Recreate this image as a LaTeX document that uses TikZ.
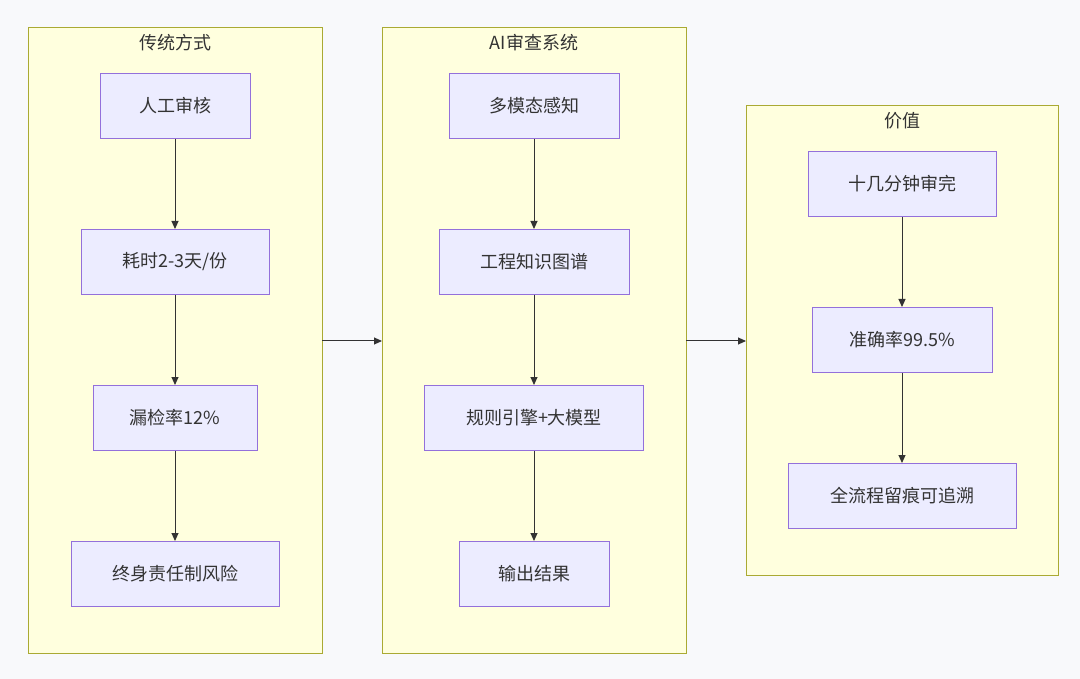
\documentclass[tikz,border=0pt]{standalone}
\usepackage{fontspec}
\setmainfont{Noto Sans CJK SC}
\usetikzlibrary{arrows.meta}
\definecolor{bg}{HTML}{F8F9FB}
\definecolor{clf}{HTML}{FFFFDE}
\definecolor{cls}{HTML}{AAAA33}
\definecolor{nf}{HTML}{ECECFF}
\definecolor{ns}{HTML}{9370DB}
\definecolor{tx}{HTML}{333333}
\begin{document}
\begin{tikzpicture}[x=1pt,y=-1pt,
  cluster/.style={draw=cls,fill=clf,line width=1pt},
  box/.style={draw=ns,fill=nf,line width=1pt,minimum height=65pt,text=tx,font=\fontsize{18}{20}\selectfont,inner sep=0pt},
  ttl/.style={text=tx,font=\fontsize{18}{20}\selectfont},
  arr/.style={draw=tx,line width=1pt,-{Triangle[length=8pt,width=7pt]}}]
\fill[bg] (0,0) rectangle (1080,679);
\useasboundingbox (0,0) rectangle (1080,679);
\draw[cluster] (28,28) rectangle (322,653); \node[ttl] (t1) at (175,43) {传统方式};
\draw[cluster] (382,28) rectangle (686,653); \node[ttl] (t2) at (534,43) {AI审查系统};
\draw[cluster] (746,106) rectangle (1058,575); \node[ttl] (t3) at (902,121) {价值};
\coordinate (c1r) at (322,341); \coordinate (c2l) at (382,341);
\coordinate (c2r) at (686,341); \coordinate (c3l) at (746,341);
\node[box,minimum width=150pt] (a1) at (175,106) {人工审核};
\node[box,minimum width=188pt] (a2) at (175,262) {耗时2-3天/份};
\node[box,minimum width=164pt] (a3) at (175,418) {漏检率12\%};
\node[box,minimum width=208pt] (a4) at (175,574) {终身责任制风险};
\node[box,minimum width=170pt] (b1) at (534,106) {多模态感知};
\node[box,minimum width=190pt] (b2) at (534,262) {工程知识图谱};
\node[box,minimum width=219pt] (b3) at (534,418) {规则引擎+大模型};
\node[box,minimum width=150pt] (b4) at (534,574) {输出结果};
\node[box,minimum width=188pt] (c1) at (902,184) {十几分钟审完};
\node[box,minimum width=180pt] (c2) at (902,340) {准确率99.5\%};
\node[box,minimum width=228pt] (c3) at (902,496) {全流程留痕可追溯};
\draw[arr] (a1) -- (a2); \draw[arr] (a2) -- (a3); \draw[arr] (a3) -- (a4);
\draw[arr] (b1) -- (b2); \draw[arr] (b2) -- (b3); \draw[arr] (b3) -- (b4);
\draw[arr] (c1) -- (c2); \draw[arr] (c2) -- (c3);
\draw[arr] (c1r) -- (c2l); \draw[arr] (c2r) -- (c3l);
\end{tikzpicture}
\end{document}
